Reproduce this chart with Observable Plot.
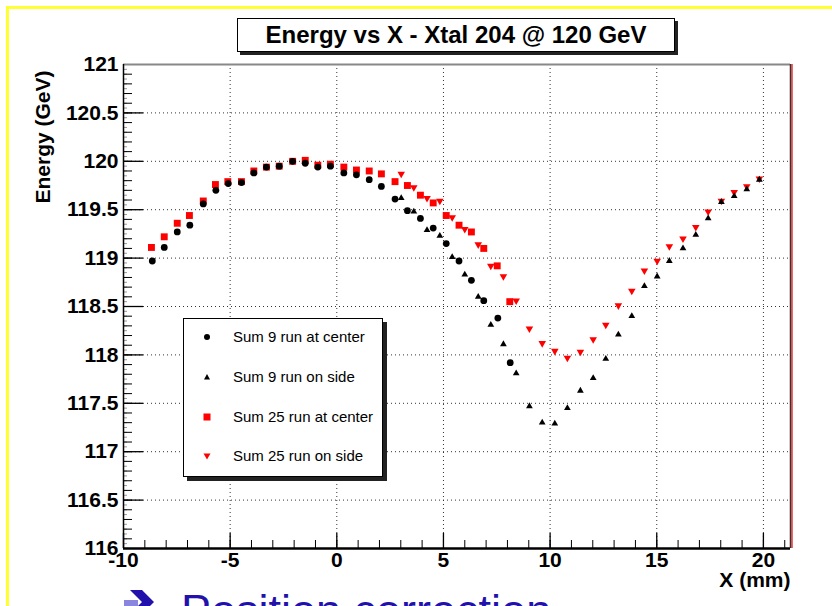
<!DOCTYPE html>
<html><head><meta charset="utf-8">
<script src="https://cdn.jsdelivr.net/npm/d3@7"></script>
<script src="https://cdn.jsdelivr.net/npm/@observablehq/plot@0.6"></script>
<style>
html,body{margin:0;padding:0;background:#fff;overflow:hidden;width:832px;height:606px;}
#wrap{position:relative;width:832px;height:606px;overflow:hidden;font-family:"Liberation Sans",Arial,Helvetica,sans-serif;}
#chart{position:absolute;left:0;top:0;}
#yellow{position:absolute;left:6px;top:6px;width:900px;height:700px;border:3px solid #ffff33;box-sizing:border-box;}
#title{position:absolute;left:237px;top:18px;width:438px;height:34px;border:1px solid #000;background:#fff;box-shadow:3px 3px 0 #222;box-sizing:border-box;font-weight:bold;font-size:24px;line-height:32px;text-align:center;color:#000;}
#legend{position:absolute;left:183px;top:318px;width:200px;height:159px;border:1px solid #000;background:#fff;box-shadow:4px 4px 0 #222;box-sizing:border-box;}
.entry{position:absolute;left:0;width:200px;height:20px;font-size:15px;line-height:20px;color:#000;}
.entry svg{position:absolute;left:17px;top:4px;}
.entry span{position:absolute;left:49px;top:0;white-space:nowrap;}
#bottom{position:absolute;left:181px;top:588px;color:#2211aa;font-size:45px;line-height:45px;white-space:nowrap;}
#arrow{position:absolute;left:124px;top:588px;}
</style></head><body>
<div id="wrap">
<div id="yellow"></div>
<div id="chart"></div>
<div id="title">Energy vs X - Xtal 204 @ 120 GeV</div>
<div id="legend"></div>
<svg id="arrow" width="32" height="20"><path d="M0,12 L14,12 L14,19 L0,19Z" fill="#8a86e0"/><path d="M6,2 L18,2 L30,14 L22,22 L10,22 L18,14Z" fill="#2211aa"/></svg>
<div id="bottom">Position correction</div>
</div>
<script>
// ---- data ----
const xCenter = [-8.65,-8.09,-7.48,-6.89,-6.26,-5.67,-5.09,-4.47,-3.89,-3.30,-2.70,-2.07,-1.48,-0.89,-0.30,0.33,0.92,1.52,2.09,2.73,3.31,3.92,4.52,5.13,5.73,6.31,6.89,7.55,8.13];
const sum9Center = [118.97,119.11,119.27,119.34,119.56,119.70,119.77,119.78,119.88,119.94,119.95,120.00,119.98,119.94,119.95,119.88,119.86,119.81,119.74,119.61,119.49,119.41,119.31,119.15,118.97,118.77,118.56,118.38,117.92];
const xCenter25 = [-8.69,-8.09,-7.48,-6.91,-6.26,-5.69,-5.11,-4.47,-3.89,-3.30,-2.70,-2.07,-1.48,-0.89,-0.30,0.33,0.92,1.52,2.09,2.73,3.31,3.92,4.52,5.13,5.73,6.31,6.89,7.52,8.11];
const sum25Center = [119.11,119.22,119.36,119.44,119.59,119.76,119.79,119.79,119.90,119.94,119.95,120.00,120.01,119.96,119.97,119.94,119.91,119.90,119.87,119.79,119.75,119.65,119.57,119.44,119.34,119.27,119.10,118.92,118.55];
const xSide = [3.02,3.61,4.23,4.83,5.41,6.00,6.63,7.22,7.81,8.41,9.03,9.63,10.22,10.81,11.42,12.02,12.61,13.20,13.83,14.42,15.02,15.59,16.23,16.83,17.41,18.03,18.63,19.22,19.81];
const sum9Side = [119.62,119.48,119.29,119.23,119.01,118.83,118.60,118.31,118.11,117.81,117.47,117.30,117.29,117.45,117.63,117.76,117.96,118.21,118.40,118.71,118.81,118.97,119.10,119.24,119.41,119.58,119.64,119.71,119.81];
const sum25Side = [119.87,119.73,119.62,119.59,119.42,119.30,119.14,118.92,118.81,118.56,118.27,118.12,118.04,117.97,118.03,118.16,118.31,118.51,118.66,118.87,118.97,119.12,119.20,119.32,119.48,119.59,119.68,119.74,119.82];
const seriesNames = ["Sum 9 run at center","Sum 9 run on side","Sum 25 run at center","Sum 25 run on side"];
const xTickLabels = [-10,-5,0,5,10,15,20];
const yTickLabels = [116,116.5,117,117.5,118,118.5,119,119.5,120,120.5,121];
const xGrid = [-5,0,5,10,15,20];
const yGrid = [116.5,117,117.5,118,118.5,119,119.5,120,120.5];
const xDomain = [-10,21.27], yDomain = [116,121];
const xMinor = d3.range(-10,22,1);
const yMid = d3.range(0,51).map(i=>116+i*0.1);
const ySmall = d3.range(0,101).map(i=>116+i*0.05);

const toRows = (xs, ys) => xs.map((x,i)=>({x, y: ys[i]}));
const c9 = toRows(xCenter, sum9Center), c25 = toRows(xCenter25, sum25Center);
const s9 = toRows(xSide, sum9Side), s25 = toRows(xSide, sum25Side);

const W=832,H=606,mL=123,mR=42,mT=64,mB=58;
const fw=W-mL-mR, fh=H-mT-mB;

const plot = Plot.plot({
  width:W, height:H, marginLeft:mL, marginRight:mR, marginTop:mT, marginBottom:mB,
  x:{domain:xDomain}, y:{domain:yDomain},
  style:{fontFamily:'"Liberation Sans", Arial, Helvetica, sans-serif', fontSize:"21px", fontWeight:"bold", color:"#000", background:"transparent", overflow:"visible"},
  marks:[
    Plot.ruleX(xGrid, {stroke:"#333", strokeDasharray:"1,3", strokeWidth:1}),
    Plot.ruleY(yGrid, {stroke:"#333", strokeDasharray:"1,3", strokeWidth:1}),
    Plot.tickY(ySmall, {y:d=>d, insetRight:fw-4, stroke:"#999"}),
    Plot.tickY(yMid, {y:d=>d, insetRight:fw-9, stroke:"#000"}),
    Plot.tickY(yGrid, {y:d=>d, insetRight:fw-20, stroke:"#000", strokeWidth:1.3}),
    Plot.tickX(xMinor, {x:d=>d, insetTop:fh-8, stroke:"#000"}),
    Plot.tickX(xTickLabels, {x:d=>d, insetTop:fh-15, stroke:"#000", strokeWidth:1.3}),
    Plot.ruleY([yDomain[1]], {stroke:"#888", strokeWidth:2}),
    Plot.ruleX([xDomain[0]], {stroke:"#000", strokeWidth:1.5}),
    Plot.ruleY([yDomain[0]], {stroke:"#000", strokeWidth:2.5}),
    Plot.ruleX([xDomain[1]], {stroke:"#333", strokeWidth:1.5}),
    Plot.ruleX([xDomain[1]], {stroke:"#e00000", strokeWidth:1.2, dx:1.5}),
    Plot.axisX({ticks:xTickLabels, tickSize:0, tickPadding:4, tickFormat:d=>String(d), label:null}),
    Plot.axisY({ticks:yTickLabels, tickSize:0, tickPadding:5, tickFormat:d=>String(d), label:null}),
    Plot.text(["Energy (GeV)"], {frameAnchor:"top-left", dx:-88, dy:6, rotate:-90, textAnchor:"end"}),
    Plot.text(["X (mm)"], {frameAnchor:"bottom-right", textAnchor:"end", dy:38}),
    Plot.dot(c25, {x:"x", y:"y", symbol:"square", r:3.9, fill:"#ff0000"}),
    Plot.dot(c9, {x:"x", y:"y", symbol:"circle", r:3.4, fill:"#000"}),
    Plot.dot(s25, {x:"x", y:"y", symbol:"triangle", r:2.8, fill:"#ff0000", rotate:180}),
    Plot.dot(s9, {x:"x", y:"y", symbol:"triangle", r:2.5, fill:"#000"})
  ]
});
document.getElementById("chart").appendChild(plot);

// legend
const markers = [
  '<svg width="12" height="12"><circle cx="6" cy="6" r="3" fill="#000"/></svg>',
  '<svg width="12" height="12"><path d="M6,3 L9,8.5 L3,8.5Z" fill="#000"/></svg>',
  '<svg width="12" height="12"><rect x="2.5" y="2.5" width="7" height="7" fill="#ff0000"/></svg>',
  '<svg width="12" height="12"><path d="M2.5,3.5 L9.5,3.5 L6,9.5Z" fill="#ff0000"/></svg>'
];
const entryY = [8, 48, 88, 127];
const leg = document.getElementById("legend");
seriesNames.forEach((n,i)=>{
  const d = document.createElement("div");
  d.className = "entry";
  d.style.top = entryY[i] + "px";
  d.innerHTML = markers[i] + "<span>" + n + "</span>";
  leg.appendChild(d);
});
</script>
</body></html>
